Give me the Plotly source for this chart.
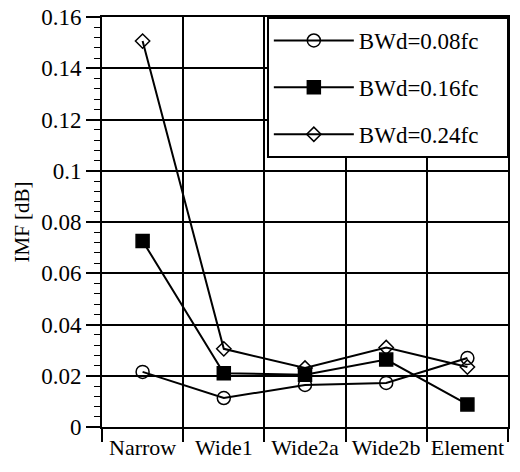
import plotly.graph_objects as go

categories = ["Narrow", "Wide1", "Wide2a", "Wide2b", "Element"]
bw008 = [0.0215, 0.0113, 0.0164, 0.0172, 0.0269]
bw016 = [0.0726, 0.0210, 0.0204, 0.0263, 0.0088]
bw024 = [0.1506, 0.0305, 0.0230, 0.0310, 0.0234]
names = ["BWd=0.08fc", "BWd=0.16fc", "BWd=0.24fc"]

FONT = "Liberation Serif"
PAD = "\u00a0" * 4
fig = go.Figure()
specs = [
    (bw008, names[0], "circle-open", 13),
    (bw016, names[1], "square", 13),
    (bw024, names[2], "diamond-open", 11),
]
for i, (vals, nm, sym, sz) in enumerate(specs):
    fig.add_trace(go.Scatter(
        x=categories, y=vals, name=nm + PAD, mode="lines+markers",
        line=dict(color="black", width=2),
        marker=dict(symbol=sym, size=sz, color="black",
                    line=dict(color="black", width=1.5)),
        legendgroup=str(i),
    ))

fig.update_layout(
    width=520, height=472,
    margin=dict(l=102, r=12, t=17, b=45, autoexpand=False),
    paper_bgcolor="white", plot_bgcolor="white",
    font=dict(family=FONT, size=22, color="black"),
    showlegend=True,
    legend=dict(
        x=0.406, y=1.0, xanchor="left", yanchor="top",
        bgcolor="white", bordercolor="black", borderwidth=2,
        font=dict(family=FONT, size=23, color="black"),
        tracegroupgap=14, traceorder="grouped",
        itemwidth=80,
    ),
)
fig.update_xaxes(
    type="category", range=[-0.5, 4.5], tickson="boundaries",
    showgrid=True, gridcolor="black", gridwidth=1.5,
    showline=True, linecolor="black", linewidth=2, mirror=True,
    ticks="outside", ticklen=13, tickcolor="black", tickwidth=1.5,
    tickangle=0,
    tickfont=dict(family=FONT, size=22), automargin=False,
)
fig.update_yaxes(
    range=[0, 0.16], dtick=0.02, tickformat="~g",
    showgrid=True, gridcolor="black", gridwidth=1.5,
    showline=True, linecolor="black", linewidth=2, mirror=True,
    ticks="outside", ticklen=14, tickcolor="black", tickwidth=1.5,
    minor=dict(dtick=0.004, ticks="outside", ticklen=6, tickcolor="black",
               tickwidth=1, showgrid=False),
    zeroline=False, automargin=False,
    tickfont=dict(family=FONT, size=23),
    title=dict(text="IMF [dB]", font=dict(family=FONT, size=21), standoff=6),
)
fig.write_html("out.html", config={"displayModeBar": False},
               post_script="document.body.style.margin='0';document.body.style.overflow='hidden';")
